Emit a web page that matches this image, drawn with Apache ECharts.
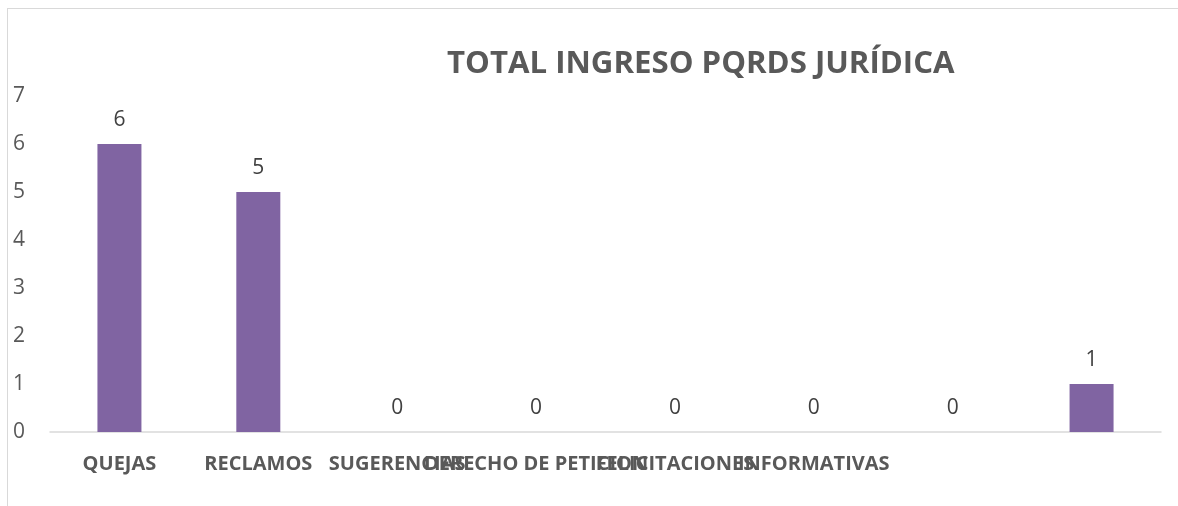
<!DOCTYPE html>
<html>
<head>
<meta charset="utf-8">
<script src="https://cdn.jsdelivr.net/npm/echarts@6/dist/echarts.min.js"></script>
<style>
html,body{margin:0;padding:0;background:#fff;}
#wrap{position:relative;width:1178px;height:506px;overflow:hidden;}
#frame{position:absolute;left:7px;top:8px;width:1180px;height:510px;border-left:1px solid #d9d9d9;border-top:1px solid #d9d9d9;pointer-events:none;}
#chart{position:absolute;left:0;top:0;width:1178px;height:506px;}
</style>
</head>
<body>
<div id="wrap"><div id="chart"></div><div id="frame"></div></div>
<script>
const titleText = 'TOTAL INGRESO PQRDS JURÍDICA';
const categories = ['QUEJAS', 'RECLAMOS', 'SUGERENCIAS', 'DERECHO DE PETICION', 'FELICITACIONES', 'INFORMATIVAS', '', ' '];
const values = [6, 5, 0, 0, 0, 0, 0, 1];
const yTicks = [0, 1, 2, 3, 4, 5, 6, 7];

const chart = echarts.init(document.getElementById('chart'));
chart.setOption({
  animation: false,
  backgroundColor: 'transparent',
  title: {
    text: titleText,
    left: 442,
    top: 44,
    textStyle: {fontFamily: 'Open Sans', fontWeight: 'bold', fontSize: 31.2, color: '#595959'}
  },
  grid: {left: 50, right: 17, top: 96, bottom: 74, containLabel: false},
  xAxis: {
    type: 'category',
    data: categories,
    axisLine: {lineStyle: {color: '#d9d9d9', width: 1.5}},
    axisTick: {show: false},
    axisLabel: {interval: 0, margin: 22, fontFamily: 'Open Sans', fontWeight: 'bold', fontSize: 20, color: '#595959', hideOverlap: false}
  },
  yAxis: {
    type: 'value',
    min: yTicks[0],
    max: yTicks[yTicks.length - 1],
    interval: 1,
    splitLine: {show: false},
    axisLine: {show: false},
    axisTick: {show: false},
    axisLabel: {margin: 25, fontFamily: 'Open Sans', fontSize: 21, color: '#595959'}
  },
  series: [{
    type: 'bar',
    data: values,
    barWidth: 44,
    itemStyle: {color: '#8064a2'},
    label: {show: true, position: 'top', distance: 13, fontFamily: 'Open Sans', fontSize: 21, color: '#404040'}
  }]
});
</script>
</body>
</html>
